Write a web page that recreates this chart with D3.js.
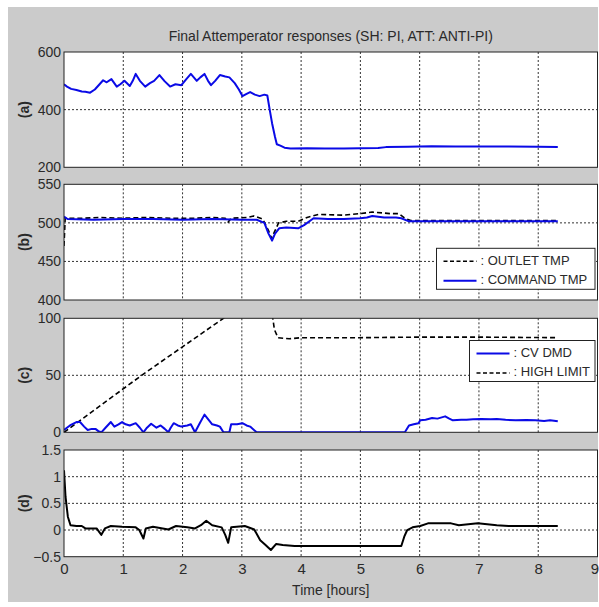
<!DOCTYPE html>
<html>
<head>
<meta charset="utf-8">
<script src="https://cdn.jsdelivr.net/npm/d3@7"></script>
<style>
  html, body { margin: 0; padding: 0; background: #fff; }
  svg { display: block; }
  text { font-family: "Liberation Sans", Arial, sans-serif; fill: #2a2a2a; }
</style>
</head>
<body>
<script>
// ---------------- DATA ----------------
const titleText = "Final Attemperator responses (SH: PI, ATT: ANTI-PI)";
const xLabelText = "Time [hours]";
const xTicks = [0, 1, 2, 3, 4, 5, 6, 7, 8, 9];
const panelLabels = ["(a)", "(b)", "(c)", "(d)"];
const yTicksA = [200, 400, 600];
const yTicksB = [400, 450, 500, 550];
const yTicksC = [0, 50, 100];
const yTicksD = [-0.5, 0, 0.5, 1, 1.5];
const legendB = [": OUTLET TMP", ": COMMAND TMP"];
const legendC = [": CV DMD", ": HIGH LIMIT"];

// panel (a) : [hours, value]
const seriesA = [
  [0,488],[0.05,480],[0.12,472],[0.21,468],[0.3,463],[0.36,462],[0.44,459],[0.52,470],[0.6,488],[0.66,502],
  [0.72,495],[0.8,506],[0.89,480],[0.95,488],[1.02,500],[1.11,482],[1.16,500],[1.21,524],[1.28,500],[1.37,480],
  [1.45,492],[1.52,500],[1.61,520],[1.7,498],[1.79,480],[1.88,488],[1.98,485],[2.06,505],[2.14,524],[2.24,500],
  [2.3,512],[2.37,524],[2.43,500],[2.48,485],[2.55,500],[2.63,520],[2.72,515],[2.79,512],[2.88,492],[2.95,470],
  [3.01,447],[3.08,455],[3.14,461],[3.22,452],[3.3,447],[3.38,452],[3.43,449],[3.47,400],[3.51,353],[3.56,305],
  [3.59,280],[3.65,275],[3.72,268],[3.82,265],[4.1,266],[4.4,265],[4.72,265],[5.0,266],[5.3,267],[5.43,270],
  [5.8,271],[6.2,273],[6.6,272],[7.0,272],[7.5,272],[8.0,271],[8.33,270]
];
// panel (b)
const outletTmp = [
  [0,470],[0.02,506],[0.3,506],[0.6,507],[1.0,506],[1.4,507],[1.8,506],[2.2,506],[2.5,507],[2.72,506],[2.77,501],
  [2.82,506],[3.1,507],[3.2,509],[3.35,505],[3.45,490],[3.5,480],[3.56,490],[3.62,500],[3.75,502],[3.95,502],
  [4.1,507],[4.3,511],[4.7,510],[5.0,512],[5.2,514],[5.5,512],[5.65,512],[5.75,506],[5.85,503],[6.5,503],
  [7.5,503],[8.33,503]
];
const commandTmp = [
  [0,508],[0.06,505],[0.5,504],[1.0,505],[1.5,505],[2.0,504],[2.5,505],[3.0,504],[3.25,504],[3.38,500],
  [3.45,486],[3.51,477],[3.56,486],[3.63,493],[3.75,494],[3.95,493],[4.05,497],[4.21,506],[4.45,505],
  [4.72,505],[5.0,506],[5.11,507],[5.2,509],[5.4,507],[5.6,507],[5.69,506],[5.82,502],[6.2,502],[7.0,502],[8.33,502]
];
// panel (c)
const cvDmd = [
  [0,2],[0.1,6],[0.21,9],[0.27,9],[0.34,5],[0.4,2],[0.47,3],[0.53,3],[0.58,1],[0.63,0],[0.7,4],[0.79,9],
  [0.85,5],[0.92,7],[0.98,9],[1.04,7],[1.11,6],[1.21,8],[1.28,4],[1.34,0],[1.4,4],[1.47,7.5],[1.56,4],
  [1.63,6],[1.7,3],[1.76,0],[1.8,4],[1.85,8],[1.92,6],[1.98,5],[2.08,6],[2.14,7],[2.21,0],[2.29,8],
  [2.37,15.5],[2.44,11],[2.5,7],[2.58,6],[2.63,5],[2.69,0],[2.79,0],[2.82,7],[2.92,7],[3.01,8],[3.08,6],
  [3.14,5],[3.25,0],[4.0,0],[5.0,0],[5.75,0],[5.82,6],[5.9,7],[5.98,8],[6.01,10.5],[6.1,11],[6.21,12.5],
  [6.3,12],[6.43,14],[6.5,12],[6.56,10.5],[6.7,11],[6.79,11],[6.9,11.5],[7.04,11.7],[7.2,11.5],[7.3,11.7],
  [7.45,11],[7.62,10.5],[7.8,10.8],[7.95,10.5],[8.1,10],[8.2,10.5],[8.33,9.6]
];
const highLimit = [
  [0,0],[0.08,3],[1.31,50],[2.69,100],[3.0,112],[3.3,124],[3.45,128],[3.5,108],[3.55,90],[3.61,83],
  [3.8,82],[4.0,83],[5.0,83],[6.0,83.5],[7.0,83.5],[8.33,83]
];
// panel (d)
const seriesD = [
  [0,1.12],[0.026,0.62],[0.065,0.25],[0.11,0.09],[0.21,0.075],[0.3,0.075],[0.36,0.03],[0.55,0.03],[0.63,-0.09],
  [0.69,0.03],[0.79,0.075],[0.98,0.06],[1.21,0.05],[1.27,0.0],[1.34,-0.16],[1.38,0.03],[1.5,0.06],[1.76,0.01],
  [1.89,0.075],[2.08,0.05],[2.21,0.03],[2.31,0.09],[2.4,0.175],[2.5,0.09],[2.66,0.05],[2.72,-0.09],[2.77,-0.24],
  [2.82,0.05],[3.05,0.075],[3.21,0.01],[3.31,-0.19],[3.4,-0.28],[3.49,-0.375],[3.58,-0.26],[3.69,-0.28],
  [3.89,-0.3],[4.5,-0.3],[5.0,-0.3],[5.69,-0.3],[5.74,-0.125],[5.79,0.0],[5.88,0.05],[6.01,0.075],[6.14,0.125],
  [6.53,0.125],[6.66,0.09],[6.98,0.125],[7.3,0.09],[7.5,0.075],[8.33,0.075]
];

// ---------------- LAYOUT ----------------
const W = 599, H = 607;
const left = 64, right = 597.5;
const panels = [
  { top: 52,    bottom: 167.3, domain: [200, 600],  ticks: yTicksA, label: panelLabels[0] },
  { top: 184.3, bottom: 300,   domain: [400, 550],  ticks: yTicksB, label: panelLabels[1] },
  { top: 318.3, bottom: 432.3, domain: [0, 100],    ticks: yTicksC, label: panelLabels[2] },
  { top: 450,   bottom: 556.7, domain: [-0.5, 1.5], ticks: yTicksD, label: panelLabels[3] }
];
const BLUE = "#0a0ae6";

const svg = d3.select("body").append("svg").attr("width", W).attr("height", H);
svg.append("rect").attr("x", 0).attr("y", 0).attr("width", W).attr("height", H).attr("fill", "#fff");
svg.append("rect").attr("x", 8).attr("y", 7).attr("width", 590).attr("height", 595).attr("fill", "#cbcbcb");

const x = d3.scaleLinear().domain([0, 9]).range([left, right]);

svg.append("text").attr("x", (left + right) / 2).attr("y", 37)
  .attr("text-anchor", "middle").attr("dominant-baseline", "middle")
  .style("font-size", "14px").text(titleText);

panels.forEach((p, i) => {
  const y = d3.scaleLinear().domain(p.domain).range([p.bottom, p.top]);
  p.y = y;
  const g = svg.append("g");
  g.append("rect").attr("x", left).attr("y", p.top).attr("width", right - left).attr("height", p.bottom - p.top)
    .attr("fill", "#fff");
  const clipId = "clip" + i;
  svg.append("clipPath").attr("id", clipId).append("rect")
    .attr("x", left).attr("y", p.top).attr("width", right - left).attr("height", p.bottom - p.top);

  // grid lines
  const gridG = g.append("g").attr("stroke", "#333").attr("stroke-width", 1).attr("stroke-dasharray", "2,2");
  xTicks.slice(1, -1).forEach(t => {
    gridG.append("line").attr("x1", x(t)).attr("x2", x(t)).attr("y1", p.top).attr("y2", p.bottom);
  });
  p.ticks.slice(1, -1).forEach(t => {
    gridG.append("line").attr("x1", left).attr("x2", right).attr("y1", y(t)).attr("y2", y(t));
  });

  // y axis labels via d3 axis
  const ax = g.append("g").attr("transform", `translate(${left},0)`)
    .call(d3.axisLeft(y).tickValues(p.ticks).tickSize(0).tickPadding(3).tickFormat(d3.format("")));
  ax.select(".domain").remove();
  ax.selectAll("text").style("font-size", "14px").style("font-family", '"Liberation Sans", Arial, sans-serif').attr("fill", "#2a2a2a");

  // panel label
  svg.append("text").attr("transform", `translate(25,${(p.top + p.bottom) / 2}) rotate(-90)`)
    .attr("text-anchor", "middle").attr("dominant-baseline", "middle")
    .style("font-size", "14px").style("font-weight", "bold").attr("fill", "#333").text(p.label);

  p.clip = clipId;
  p.g = g;
});

function drawLine(p, data, color, width, dash) {
  const line = d3.line().x(d => x(d[0])).y(d => p.y(d[1]));
  p.g.append("path").attr("d", line(data)).attr("fill", "none").attr("stroke", color)
    .attr("stroke-width", width).attr("stroke-dasharray", dash || null)
    .attr("stroke-linejoin", "round").attr("clip-path", `url(#${p.clip})`);
}

drawLine(panels[0], seriesA, BLUE, 2);
drawLine(panels[1], outletTmp, "#000", 1.6, "5,3");
drawLine(panels[1], commandTmp, BLUE, 2);
drawLine(panels[2], highLimit, "#000", 1.6, "5,3");
drawLine(panels[2], cvDmd, BLUE, 2);
drawLine(panels[3], seriesD, "#000", 2);

// frames
panels.forEach(p => {
  svg.append("rect").attr("x", left).attr("y", p.top).attr("width", right - left).attr("height", p.bottom - p.top)
    .attr("fill", "none").attr("stroke", "#222").attr("stroke-width", 1);
});

// x tick labels (bottom panel)
const pd = panels[3];
const xa = svg.append("g").attr("transform", `translate(0,${pd.bottom})`)
  .call(d3.axisBottom(x).tickValues(xTicks).tickSize(0).tickPadding(7).tickFormat(d3.format("d")));
xa.select(".domain").remove();
xa.selectAll("text").style("font-size", "15px").style("font-family", '"Liberation Sans", Arial, sans-serif').attr("fill", "#2a2a2a");
// keep the last label inside the canvas
xa.selectAll(".tick").filter(d => d === xTicks[xTicks.length - 1]).select("text")
  .attr("text-anchor", "end").attr("x", W - x(xTicks[xTicks.length - 1]) - 0.5);

svg.append("text").attr("x", (left + right) / 2).attr("y", 591)
  .attr("text-anchor", "middle").attr("dominant-baseline", "middle")
  .style("font-size", "14px").text(xLabelText);

// legends
function legend(p, box, items, styles) {
  const lg = svg.append("g");
  lg.append("rect").attr("x", box.x).attr("y", box.y).attr("width", box.w).attr("height", box.h)
    .attr("fill", "#fff").attr("stroke", "#222").attr("stroke-width", 1);
  items.forEach((t, k) => {
    const cy = box.y + 13 + k * 19.5;
    lg.append("line").attr("x1", box.x + 7).attr("x2", box.x + 40).attr("y1", cy).attr("y2", cy)
      .attr("stroke", styles[k].color).attr("stroke-width", styles[k].width)
      .attr("stroke-dasharray", styles[k].dash || null);
    lg.append("text").attr("x", box.x + 44).attr("y", cy).attr("dominant-baseline", "middle")
      .style("font-size", "13px").text(t);
  });
}
legend(panels[1], { x: 436.5, y: 248.3, w: 158.5, h: 41 }, legendB,
  [{ color: "#000", width: 1.6, dash: "4,2.5" }, { color: BLUE, width: 2 }]);
legend(panels[2], { x: 469.5, y: 340.5, w: 125.5, h: 41 }, legendC,
  [{ color: BLUE, width: 2 }, { color: "#000", width: 1.6, dash: "4,2.5" }]);
</script>
</body>
</html>
